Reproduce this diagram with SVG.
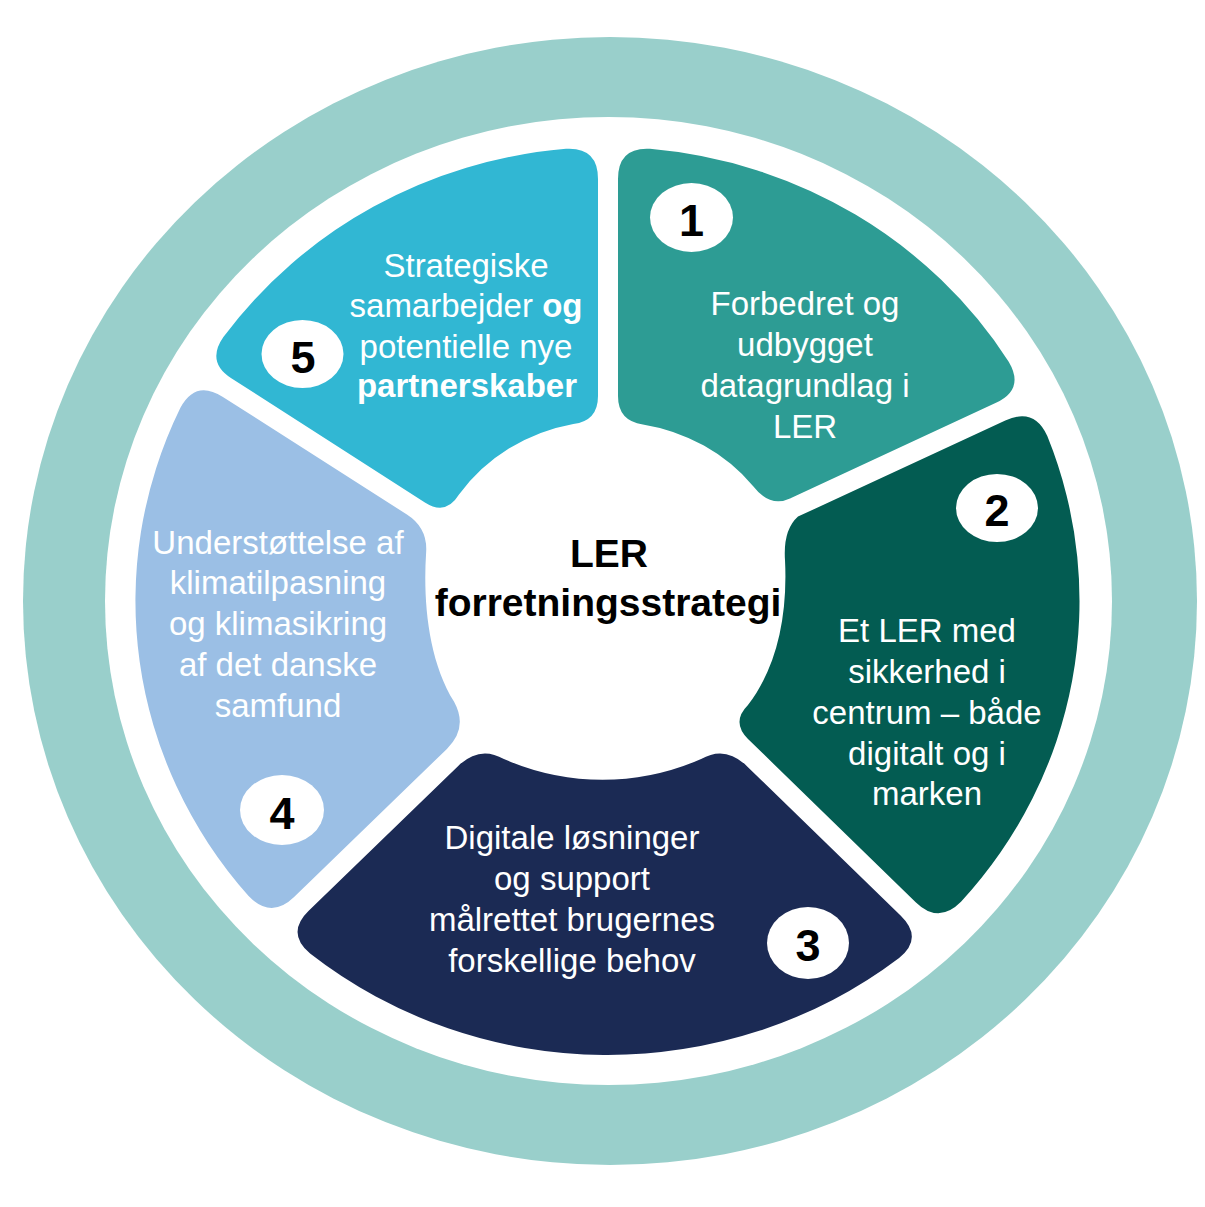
<svg xmlns="http://www.w3.org/2000/svg" width="1205" height="1207" viewBox="0 0 1205 1207">
<style>
.lbl{font-family:"Liberation Sans",Arial,sans-serif;font-size:33px;fill:#fff;text-anchor:middle}
.b{font-weight:bold}
.num{font-family:"Liberation Sans",Arial,sans-serif;font-size:45px;font-weight:bold;fill:#000;text-anchor:middle}
.badge{fill:#fff}
.title{font-family:"Liberation Sans",Arial,sans-serif;font-size:39px;font-weight:bold;fill:#000;text-anchor:middle}
</style>
<rect width="1205" height="1207" fill="#fff"/>
<g id="ring">
<ellipse cx="610" cy="601" rx="587" ry="564" fill="#99CFCB"/>
<ellipse cx="608.5" cy="601" rx="503.5" ry="484" fill="#fff"/>
</g>
<g id="seg5">
<path fill="#31B7D3" d="M566,148.8 Q598,147 598,179 L598,396 Q598,421 573.3,424 A180 171 0 0 0 459,494.6 Q446,516 424.9,502.5 L231.3,378.2 Q206,362 223.4,337.1 A472 454 0 0 1 566,148.8 Z"/>
<ellipse class="badge" cx="302.5" cy="354" rx="41" ry="34"/>
<text class="num" x="303" y="373">5</text>
<text class="lbl" x="466" y="277">Strategiske</text>
<text class="lbl" x="466" y="317">samarbejder <tspan class="b">og</tspan></text>
<text class="lbl" x="466" y="358">potentielle nye</text>
<text class="lbl b" x="467" y="397">partnerskaber</text>
</g>
<g id="seg1">
<path fill="#2D9C94" d="M618,179 Q618,147 650,148.8 A472 454 0 0 1 1008.7,361.7 Q1025,389.3 996,402.8 L790,498.5 Q770,508 753,486 A180 171 0 0 0 642.9,424.4 Q618,421 618,396 Z"/>
<ellipse class="badge" cx="691.5" cy="217.5" rx="41.5" ry="34.5"/>
<text class="num" x="691.5" y="236">1</text>
<text class="lbl" x="805" y="315">Forbedret og</text>
<text class="lbl" x="805" y="356">udbygget</text>
<text class="lbl" x="805" y="397">datagrundlag i</text>
<text class="lbl" x="805" y="438">LER</text>
</g>
<g id="seg2">
<path fill="#035C52" d="M798,516.6 L1005.3,420.6 Q1034.3,407.1 1047.3,436.1 A472 454 0 0 1 961,901.8 Q938.6,924.5 915.7,902.2 L748,739 Q731,722 748,705 C775,670 788,620 785,560 Q783,530 798,516.6 Z"/>
<ellipse class="badge" cx="997" cy="508" rx="41" ry="34"/>
<text class="num" x="997" y="526">2</text>
<text class="lbl" x="927" y="642">Et LER med</text>
<text class="lbl" x="927" y="683">sikkerhed i</text>
<text class="lbl" x="927" y="724">centrum – både</text>
<text class="lbl" x="927" y="765">digitalt og i</text>
<text class="lbl" x="927" y="805">marken</text>
</g>
<g id="seg3">
<path fill="#1B2A54" d="M503.9,759 A244.8 244.8 0 0 0 701.1,759 Q725.2,745 746.7,765.9 L900.8,915.7 Q923.7,938 899.1,957.9 A472 454 0 0 1 310.1,953.6 Q285.7,933.1 308.7,910.8 L458.2,765.9 Q479.7,745 503.9,759 Z"/>
<ellipse class="badge" cx="808" cy="943" rx="41" ry="36"/>
<text class="num" x="808" y="961">3</text>
<text class="lbl" x="572" y="849">Digitale løsninger</text>
<text class="lbl" x="572" y="890">og support</text>
<text class="lbl" x="572" y="931">målrettet brugernes</text>
<text class="lbl" x="572" y="972">forskellige behov</text>
</g>
<g id="seg4">
<path fill="#9BBFE5" d="M222.5,396.7 L406.9,514.5 Q428,528 426.1,552.9 C423,600 428,660 454.1,701.7 Q468.4,728 446.9,748.9 L294.1,897 Q271.1,919.3 248.6,896 A472 454 0 0 1 180.4,407.7 Q195.6,379.4 222.5,396.7 Z"/>
<ellipse class="badge" cx="282" cy="810" rx="42" ry="35"/>
<text class="num" x="282" y="829">4</text>
<text class="lbl" x="278" y="554">Understøttelse af</text>
<text class="lbl" x="278" y="594">klimatilpasning</text>
<text class="lbl" x="278" y="635">og klimasikring</text>
<text class="lbl" x="278" y="676">af det danske</text>
<text class="lbl" x="278" y="717">samfund</text>
</g>
<g id="center">
<text class="title" x="609" y="567">LER</text>
<text class="title" x="608" y="616">forretningsstrategi</text>
</g>
</svg>
